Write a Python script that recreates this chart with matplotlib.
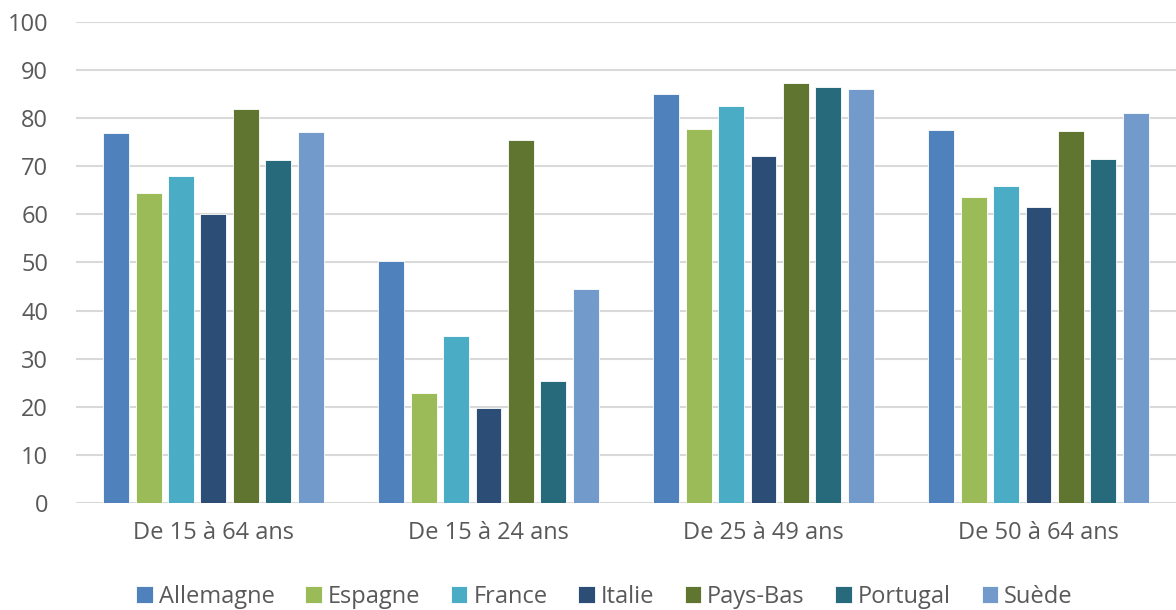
import matplotlib
matplotlib.use("Agg")
import matplotlib.pyplot as plt
import numpy as np

categories = ["De 15 à 64 ans", "De 15 à 24 ans", "De 25 à 49 ans", "De 50 à 64 ans"]
countries = ["Allemagne", "Espagne", "France", "Italie", "Pays-Bas", "Portugal", "Suède"]
allemagne = [76.9, 50.3, 85.0, 77.5]
espagne = [64.4, 22.9, 77.8, 63.7]
france = [68.0, 34.7, 82.5, 66.0]
italie = [60.1, 19.8, 72.1, 61.5]
pays_bas = [81.9, 75.5, 87.3, 77.3]
portugal = [71.3, 25.4, 86.5, 71.5]
suede = [77.1, 44.5, 86.0, 81.1]
series = [allemagne, espagne, france, italie, pays_bas, portugal, suede]
colors = ["#4F81BD", "#9BBB59", "#4BACC6", "#2C4D75", "#5F7530", "#276A7C", "#729ACA"]
yticks = list(range(0, 101, 10))

plt.rcParams['font.family'] = ['Open Sans', 'DejaVu Sans']
txt = "#595959"

fig = plt.figure(figsize=(11.76, 6.10), dpi=100)
ax = fig.add_axes([0.0646, 0.1754, 0.9354, 0.7886])

x = np.arange(len(categories))
slot = 0.118
width = slot * 0.8
n = len(series)
for i, (vals, c, name) in enumerate(zip(series, colors, countries)):
    offs = (i - (n - 1) / 2) * slot
    ax.bar(x + offs, vals, width=width, color=c, label=name,
           edgecolor="white", linewidth=0.6, zorder=3)

ax.set_xlim(-0.5, 3.5)
ax.set_ylim(0, 100)
ax.set_yticks(yticks)
ax.set_yticklabels([str(v) for v in yticks])
ax.yaxis.grid(True, color="#d9d9d9", linewidth=1.5, zorder=0)
ax.set_axisbelow(True)
for s in ax.spines.values():
    s.set_visible(False)
ax.set_xticks(x)
ax.set_xticklabels(categories)
ax.tick_params(axis="both", length=0, labelsize=17, colors=txt)
ax.tick_params(axis="y", pad=20)
ax.tick_params(axis="x", pad=13)

leg = fig.legend(loc="center", bbox_to_anchor=(0.514, 0.022), ncol=7, frameon=False,
                 fontsize=17, handlelength=0.7, handleheight=0.7, handletextpad=0.25,
                 columnspacing=1.3, labelcolor=txt)
fig.savefig("out.png", dpi=100)
